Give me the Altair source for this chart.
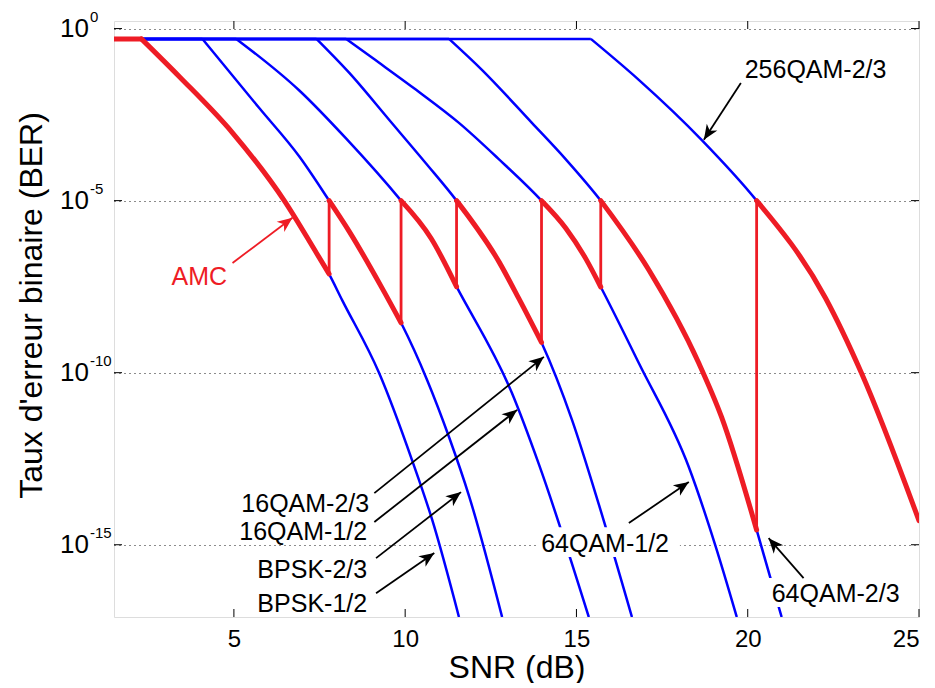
import math
import altair as alt
import pandas as pd

# ---------------- data (SNR in dB, BER given as log10 exponent) ----------------
curve_names = ["BPSK-1/2", "BPSK-2/3", "16QAM-1/2", "16QAM-2/3",
               "64QAM-1/2", "64QAM-2/3", "256QAM-2/3"]

bpsk12_snr = [1.5, 2.30, 3.41, 4.96, 6.47, 7.41, 7.76, 8.16, 9.24, 10.20, 10.79, 11.57]
bpsk12_exp = [-0.30, -0.30, -1.40, -3.03, -5.00, -6.52, -7.10, -7.89, -10.01, -12.54, -14.28, -17.10]

bpsk23_snr = [1.5, 4.08, 5.74, 6.91, 7.78, 8.37, 9.33, 9.88, 10.64, 11.28, 11.87, 12.83]
bpsk23_exp = [-0.30, -0.30, -2.31, -3.72, -5.00, -5.90, -7.55, -8.55, -10.21, -11.87, -13.60, -17.10]

qam16_12_snr = [1.5, 5.07, 6.91, 8.28, 9.88, 10.76, 11.50, 13.12, 13.91, 15.36]
qam16_12_exp = [-0.30, -0.30, -1.80, -3.20, -5.00, -6.10, -7.50, -10.60, -12.68, -17.10]

qam16_23_snr = [1.5, 7.41, 8.37, 9.53, 10.61, 11.50, 12.74, 13.32, 13.98, 14.87, 15.66, 16.62]
qam16_23_exp = [-0.30, -0.30, -1.29, -2.65, -3.92, -5.00, -6.78, -7.85, -9.12, -11.37, -13.85, -17.10]

qam64_12_snr = [1.5, 8.28, 9.04, 10.32, 11.57, 12.74, 13.98, 14.69, 15.28, 15.71, 16.82, 18.28, 19.07, 19.68]
qam64_12_exp = [-0.30, -0.30, -0.85, -1.78, -2.74, -3.80, -5.00, -5.80, -6.70, -7.51, -9.72, -12.74, -15.07, -17.10]

qam64_23_snr = [1.5, 11.28, 12.24, 13.70, 14.69, 15.71, 17.11, 18.57, 19.24, 20.26, 20.99]
qam64_23_exp = [-0.30, -0.30, -1.20, -2.74, -3.80, -5.00, -7.01, -9.72, -11.30, -14.57, -17.10]

qam256_23_snr = [1.5, 15.42, 16.82, 18.66, 20.26, 22.27, 23.32, 25.0]
qam256_23_exp = [-0.30, -0.30, -1.49, -3.24, -5.00, -7.83, -10.01, -14.30]

# AMC (adaptive modulation & coding) segments
amc_snr = [
    [1.5, 2.30, 3.41, 4.96, 6.47, 7.41, 7.78],
    [7.78, 8.37, 9.33, 9.88],
    [9.88, 10.76, 11.50],
    [11.50, 12.74, 13.32, 13.98],
    [13.98, 14.69, 15.28, 15.71],
    [15.71, 17.11, 18.57, 19.24, 20.26],
    [20.26, 22.27, 23.32, 25.0],
]
amc_exp = [
    [-0.30, -0.30, -1.40, -3.03, -5.00, -6.52, -7.13],
    [-5.00, -5.90, -7.55, -8.55],
    [-5.00, -6.10, -7.50],
    [-5.00, -6.78, -7.85, -9.12],
    [-5.00, -5.80, -6.70, -7.51],
    [-5.00, -7.01, -9.72, -11.30, -14.57],
    [-5.00, -7.83, -10.01, -14.30],
]

x_ticks = [5, 10, 15, 20, 25]
y_ticks = [1.0, 1e-5, 1e-10, 1e-15]
y_tick_base = ["10", "10", "10", "10"]
y_tick_exp = ["0", "-5", "-10", "-15"]

# annotations: label, text position (snr, exp), arrow start, arrow tip
ann_labels = ["AMC", "256QAM-2/3", "16QAM-2/3", "16QAM-1/2", "BPSK-2/3", "BPSK-1/2", "64QAM-1/2", "64QAM-2/3"]
ann_align = ["center", "center", "right", "right", "right", "right", "left", "left"]
ann_color = ["#ee1c25", "black", "black", "black", "black", "black", "black", "black"]
ann_tx = [3.99, 21.98, 8.95, 8.89, 8.89, 8.89, 13.97, 20.70]
ann_ty = [-7.45, -1.43, -14.05, -14.86, -15.97, -16.96, -15.21, -16.67]
arr_x0 = [4.96, 19.80, 9.10, 9.10, 9.15, 9.15, 16.53, 21.63]
arr_y0 = [-6.81, -1.58, -13.50, -14.34, -15.39, -16.41, -14.37, -15.97]
arr_x1 = [6.71, 18.72, 14.05, 13.27, 11.63, 10.85, 18.28, 20.61]
arr_y1 = [-5.50, -3.23, -9.54, -11.08, -13.47, -15.24, -13.18, -14.81]

# white boxes behind the two 64QAM labels
box_x0 = [13.85, 20.58]
box_x1 = [18.02, 24.74]
box_y0 = [-14.49, -15.97]
box_y1 = [-15.36, -16.81]

# ---------------- layout ----------------
W, H = 805, 596
XMIN, XMAX = 1.5, 25.0
EMAX, EMIN = 0.22, -17.1
BLUE = "#0000ff"
RED = "#ee1c25"
FONT = "Liberation Sans"

curves_snr = [bpsk12_snr, bpsk23_snr, qam16_12_snr, qam16_23_snr, qam64_12_snr, qam64_23_snr, qam256_23_snr]
curves_exp = [bpsk12_exp, bpsk23_exp, qam16_12_exp, qam16_23_exp, qam64_12_exp, qam64_23_exp, qam256_23_exp]

# split each curve into its flat (capped) part and its falling part
flat_rows, fall_rows = [], []
for name, xs, es in zip(curve_names, curves_snr, curves_exp):
    for i, (x, e) in enumerate(zip(xs, es)):
        r = {"curve": name, "i": i, "snr": x, "ber": 10 ** e}
        if i <= 1:
            flat_rows.append(r)
        if i >= 1:
            fall_rows.append(r)
df_flat = pd.DataFrame(flat_rows)
df_fall = pd.DataFrame(fall_rows)

amc_flat, amc_fall = [], []
for k, (xs, es) in enumerate(zip(amc_snr, amc_exp)):
    for i, (x, e) in enumerate(zip(xs, es)):
        r = {"seg": k, "i": i, "snr": x, "ber": 10 ** e}
        if k == 0 and i <= 1:
            amc_flat.append(r)
        if k > 0 or i >= 1:
            amc_fall.append(r)
df_amc_flat = pd.DataFrame(amc_flat)
df_amc_fall = pd.DataFrame(amc_fall)

rows = []
for k in range(1, len(amc_snr)):
    rows.append({"snr": amc_snr[k][0], "ber": 10 ** amc_exp[k - 1][-1], "ber2": 10 ** amc_exp[k][0]})
df_jump = pd.DataFrame(rows)


def to_px(x, e):
    return (x - XMIN) / (XMAX - XMIN) * W, (EMAX - e) / (EMAX - EMIN) * H


rows = []
for lab, al, col, tx, ty, x0, y0, x1, y1 in zip(ann_labels, ann_align, ann_color, ann_tx, ann_ty,
                                                  arr_x0, arr_y0, arr_x1, arr_y1):
    p0 = to_px(x0, y0)
    p1 = to_px(x1, y1)
    ang = math.degrees(math.atan2(p1[0] - p0[0], -(p1[1] - p0[1]))) % 360
    rows.append({"label": lab, "align": al, "color": col, "snr": tx, "ber": 10 ** ty,
                 "ax0": x0, "ay0": 10 ** y0, "ax1": x1, "ay1": 10 ** y1, "ang": ang})
df_ann = pd.DataFrame(rows)

df_box = pd.DataFrame({"snr": box_x0, "snr2": box_x1,
                       "ber": [10 ** v for v in box_y0], "ber2": [10 ** v for v in box_y1]})

xscale = alt.Scale(domain=[XMIN, XMAX], nice=False, zero=False)
yscale = alt.Scale(type="log", domain=[10 ** EMIN, 10 ** EMAX], nice=False)

X = alt.X("snr:Q", scale=xscale,
          axis=alt.Axis(values=x_ticks, title="SNR (dB)", grid=False, ticks=False, domain=False,
                        labelFontSize=24, titleFontSize=32, labelFont=FONT, titleFont=FONT,
                        labelColor="black", titleColor="black", titleFontWeight="normal",
                        labelPadding=10, titleY=60, titleBaseline="alphabetic"))
Y = alt.Y("ber:Q", scale=yscale,
          axis=alt.Axis(values=y_ticks, labels=False, title="Taux d'erreur binaire (BER)",
                        grid=True, gridDash=[1, 4], gridColor="black", gridOpacity=0.9, gridWidth=1,
                        ticks=False, domain=False, titleFontSize=32,
                        titleFont=FONT, titleColor="black",
                        titleFontWeight="normal", titleAngle=270,
                        titleX=-83, titleY=284, titleAlign="center", titleBaseline="middle"))

blue_flat = alt.Chart(df_flat).mark_line(color=BLUE, strokeWidth=2.5, clip=True).encode(
    x=X, y=Y, detail="curve:N", order="i:Q")
blue_fall = alt.Chart(df_fall).mark_line(color=BLUE, strokeWidth=2.5, clip=True,
                                         interpolate="monotone").encode(
    x="snr:Q", y="ber:Q", detail="curve:N", order="i:Q")

red_flat = alt.Chart(df_amc_flat).mark_line(color=RED, strokeWidth=5, clip=True,
                                            strokeCap="round").encode(
    x="snr:Q", y="ber:Q", order="i:Q")
red_fall = alt.Chart(df_amc_fall).mark_line(color=RED, strokeWidth=5, clip=True,
                                            strokeCap="round", interpolate="monotone").encode(
    x="snr:Q", y="ber:Q", detail="seg:N", order="i:Q")

jumps = alt.Chart(df_jump).mark_rule(color=RED, strokeWidth=2.8).encode(
    x="snr:Q", y="ber:Q", y2="ber2:Q")

boxes = alt.Chart(df_box).mark_rect(color="white").encode(
    x="snr:Q", x2="snr2:Q", y="ber:Q", y2="ber2:Q")

arrows = alt.Chart(df_ann).mark_rule(strokeWidth=1.8).encode(
    x="ax0:Q", x2="ax1:Q", y="ay0:Q", y2="ay1:Q",
    color=alt.Color("color:N", scale=None))

heads = alt.Chart(df_ann).mark_point(shape="M0,0L-0.42,1L0,0.72L0.42,1Z", filled=True, size=900,
                                     opacity=1, strokeWidth=0).encode(
    x="ax1:Q", y="ay1:Q", angle=alt.Angle("ang:Q", scale=None),
    color=alt.Color("color:N", scale=None))

texts = []
for al in ["left", "center", "right"]:
    texts.append(alt.Chart(df_ann).transform_filter(alt.datum.align == al).mark_text(
        align=al, baseline="alphabetic", font=FONT, fontSize=25).encode(
        x="snr:Q", y="ber:Q", text="label:N", color=alt.Color("color:N", scale=None)))

# y tick labels drawn as "10" + raised exponent
df_ylab = pd.DataFrame({"ber": y_ticks, "base": y_tick_base, "exp": y_tick_exp})
ylab_base = alt.Chart(df_ylab).mark_text(align="right", baseline="middle", font=FONT,
                                         fontSize=26, color="black").encode(
    x=alt.value(-25), y="ber:Q", text="base:N")
ylab_exp = alt.Chart(df_ylab).mark_text(align="left", baseline="alphabetic", font=FONT,
                                        fontSize=15, color="black", dy=-7).encode(
    x=alt.value(-24), y="ber:Q", text="exp:N")

df_xt = pd.DataFrame({"snr": x_ticks})
df_yt = pd.DataFrame({"ber": y_ticks})
tick_bottom = alt.Chart(df_xt).mark_rule(color="black", strokeWidth=1).encode(
    x="snr:Q", y=alt.value(H), y2=alt.value(H - 8))
tick_top = alt.Chart(df_xt).mark_rule(color="black", strokeWidth=1).encode(
    x="snr:Q", y=alt.value(0), y2=alt.value(8))
tick_left = alt.Chart(df_yt).mark_rule(color="black", strokeWidth=1).encode(
    y="ber:Q", x=alt.value(0), x2=alt.value(8))
tick_right = alt.Chart(df_yt).mark_rule(color="black", strokeWidth=1).encode(
    y="ber:Q", x=alt.value(W), x2=alt.value(W - 8))

chart = alt.layer(
    blue_flat, blue_fall, red_flat, red_fall, jumps, boxes, arrows, heads, *texts,
    ylab_base, ylab_exp, tick_bottom, tick_top, tick_left, tick_right
).properties(
    width=W, height=H,
    autosize=alt.AutoSizeParams(type="none"),
    padding={"left": 106, "top": 13, "right": 8, "bottom": 66},
).configure_view(
    stroke="black", strokeWidth=1.2
).configure(background="white")

chart.save("out.html", embed_options={"renderer": "svg", "actions": False})
